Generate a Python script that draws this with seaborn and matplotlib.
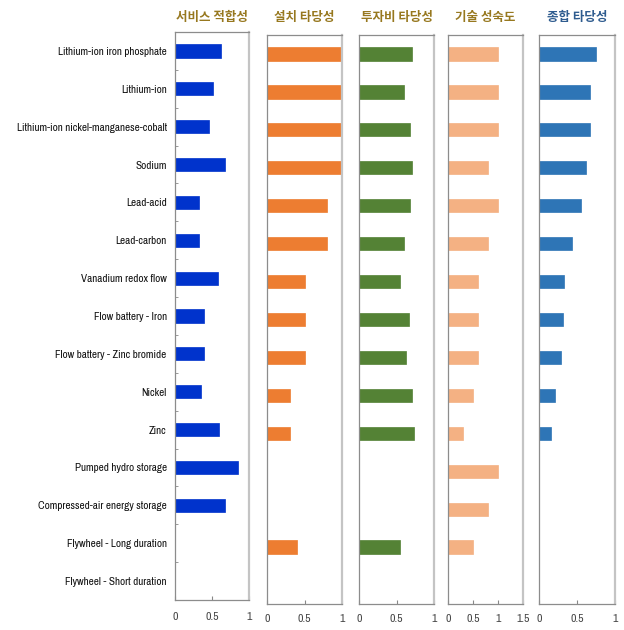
import matplotlib
matplotlib.use("Agg")
import matplotlib.pyplot as plt
from matplotlib import font_manager as fm
import seaborn as sns
import pandas as pd
import numpy as np

sns.set_theme(style="white")

technologies = [
    "Lithium-ion iron phosphate", "Lithium-ion", "Lithium-ion nickel-manganese-cobalt",
    "Sodium", "Lead-acid", "Lead-carbon", "Vanadium redox flow", "Flow battery - Iron",
    "Flow battery - Zinc bromide", "Nickel", "Zinc", "Pumped hydro storage",
    "Compressed-air energy storage", "Flywheel - Long duration", "Flywheel - Short duration",
]

titles = ["서비스 적합성", "설치 타당성", "투자비 타당성", "기술 성숙도", "종합 타당성"]

service_fit = [0.62, 0.52, 0.455, 0.68, 0.32, 0.32, 0.58, 0.39, 0.39, 0.35, 0.59, 0.85, 0.67, 0, 0]
install_feasibility = [1.0, 1.0, 1.0, 1.0, 0.8, 0.8, 0.5, 0.5, 0.5, 0.3, 0.3, 0, 0, 0.4, 0]
investment_feasibility = [0.7, 0.6, 0.68, 0.7, 0.68, 0.6, 0.54, 0.66, 0.62, 0.71, 0.73, 0, 0, 0.54, 0]
tech_maturity = [1.0, 1.0, 1.0, 0.8, 1.0, 0.8, 0.6, 0.6, 0.6, 0.5, 0.3, 1.0, 0.8, 0.5, 0]
overall_feasibility = [0.755, 0.675, 0.675, 0.62, 0.555, 0.44, 0.33, 0.31, 0.29, 0.21, 0.16, 0, 0, 0, 0]

series = [service_fit, install_feasibility, investment_feasibility, tech_maturity, overall_feasibility]
colors = ["#0033CC", "#ED7D31", "#548235", "#F4B183", "#2E75B6"]
title_colors = ["#97781F", "#97781F", "#97781F", "#97781F", "#2F5C8F"]
xmaxes = [1, 1, 1, 1.5, 1]
xticks = [[0, 0.5, 1], [0, 0.5, 1], [0, 0.5, 1], [0, 0.5, 1, 1.5], [0, 0.5, 1]]
xticklabels = [["0", "0.5", "1"], ["0", "0.5", "1"], ["0", "0.5", "1"],
               ["0", "0.5", "1", "1.5"], ["0", "0.5", "1"]]

# pick a condensed font if one is installed
names = {f.name for f in fm.fontManager.ttflist}
condensed = [f for f in fm.fontManager.ttflist
             if f.name == "DejaVu Sans" and str(f.stretch) in ("condensed", "semi-condensed", "600", "700")]
narrow = [n for n in names if "Narrow" in n or "Condensed" in n]
if narrow:
    label_font = dict(family=[sorted(narrow)[0], "DejaVu Sans"], fontstretch="normal")
    lab_size, tick_size = 8.0, 8.5
elif condensed:
    label_font = dict(family=["DejaVu Sans"], fontstretch="condensed")
    lab_size, tick_size = 7.2, 7.5
else:
    label_font = dict(family=["Liberation Sans", "DejaVu Sans"], fontstretch="normal")
    lab_size, tick_size = 7.0, 7.5

W, H = 624, 630
fig = plt.figure(figsize=(W / 100, H / 100), dpi=100)

# pixel boxes: (left, right, top, bottom)
boxes = [(175, 249, 32, 600), (267, 342, 35, 604), (359, 434, 35, 604),
         (448, 523, 35, 604), (539, 615, 35, 604)]

for i, (vals, col, box) in enumerate(zip(series, colors, boxes)):
    l, r, t, b = box
    ax = fig.add_axes([l / W, 1 - b / H, (r - l) / W, (b - t) / H])
    df = pd.DataFrame({"tech": technologies, "value": vals})
    sns.barplot(data=df, y="tech", x="value", orient="h", color=col,
                saturation=1, width=0.35, ax=ax, edgecolor=col, linewidth=0.5)
    ax.set_xlim(0, xmaxes[i])
    ax.set_ylim(len(technologies) - 0.5, -0.5)
    ax.set_xlabel("")
    ax.set_ylabel("")
    ax.set_xticks(xticks[i])
    ax.set_xticklabels(xticklabels[i], fontsize=tick_size, color="#444444",
                       family=label_font["family"], fontstretch=label_font["fontstretch"])
    ax.tick_params(axis="x", direction="in", length=3, width=0.8, color="#888888",
                   pad=9 if i == 0 else 7, bottom=True)
    for side in ["left", "top", "bottom"]:
        ax.spines[side].set_color("#8c8c8c")
        ax.spines[side].set_linewidth(0.9)
    ax.spines["right"].set_color("#c4c4c4")
    ax.spines["right"].set_linewidth(1.6)
    if i == 0:
        ax.set_yticks(range(len(technologies)))
        ax.set_yticklabels(technologies, fontsize=lab_size, color="#111111",
                           family=label_font["family"], fontstretch=label_font["fontstretch"])
        ax.tick_params(axis="y", length=0, pad=6)
        ax.set_yticks(np.arange(0.5, len(technologies) - 0.5, 1), minor=True)
        ax.tick_params(axis="y", which="minor", direction="in", length=2,
                       width=0.6, color="#888888", left=True)
    else:
        ax.set_yticks([])
    fig.text((l + r) / 2 / W, 1 - 18 / H, titles[i], ha="center", va="center",
             fontsize=9, fontweight="bold", color=title_colors[i],
             family=["Noto Sans CJK KR", "DejaVu Sans"])

fig.savefig("out.png", dpi=100)
